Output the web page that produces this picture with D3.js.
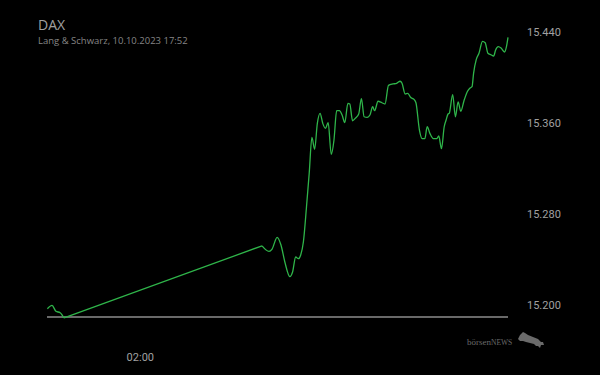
<!DOCTYPE html>
<html>
<head>
<meta charset="utf-8">
<script src="https://cdn.jsdelivr.net/npm/d3@7"></script>
<style>
  html, body { margin: 0; padding: 0; background: #000; }
  #chart { width: 600px; height: 375px; }
</style>
</head>
<body>
<div id="chart"></div>
<script>
// Kursdaten
const times = [
    "09.10.2023 22:01", "09.10.2023 22:13", "09.10.2023 22:23", "09.10.2023 22:34", "09.10.2023 22:44",
    "10.10.2023 07:16", "10.10.2023 07:34", "10.10.2023 07:42", "10.10.2023 07:55", "10.10.2023 08:05",
    "10.10.2023 08:15", "10.10.2023 08:28", "10.10.2023 08:35", "10.10.2023 08:43", "10.10.2023 08:50",
    "10.10.2023 08:56", "10.10.2023 09:03", "10.10.2023 09:11", "10.10.2023 09:18", "10.10.2023 09:25",
    "10.10.2023 09:32", "10.10.2023 09:39", "10.10.2023 09:46", "10.10.2023 09:53", "10.10.2023 10:00",
    "10.10.2023 10:07", "10.10.2023 10:15", "10.10.2023 10:22", "10.10.2023 10:29", "10.10.2023 10:36",
    "10.10.2023 10:43", "10.10.2023 10:50", "10.10.2023 10:58", "10.10.2023 11:03", "10.10.2023 11:10",
    "10.10.2023 11:17", "10.10.2023 11:26", "10.10.2023 11:33", "10.10.2023 11:40", "10.10.2023 11:48",
    "10.10.2023 11:55", "10.10.2023 12:02", "10.10.2023 12:07", "10.10.2023 12:16", "10.10.2023 12:26",
    "10.10.2023 12:34", "10.10.2023 12:43", "10.10.2023 12:55", "10.10.2023 13:04", "10.10.2023 13:13",
    "10.10.2023 13:18", "10.10.2023 13:26", "10.10.2023 13:33", "10.10.2023 13:40", "10.10.2023 13:49",
    "10.10.2023 13:54", "10.10.2023 14:03", "10.10.2023 14:10", "10.10.2023 14:17", "10.10.2023 14:23",
    "10.10.2023 14:30", "10.10.2023 14:39", "10.10.2023 14:48", "10.10.2023 14:53", "10.10.2023 15:00",
    "10.10.2023 15:07", "10.10.2023 15:12", "10.10.2023 15:17", "10.10.2023 15:20", "10.10.2023 15:29",
    "10.10.2023 15:36", "10.10.2023 15:43", "10.10.2023 15:50", "10.10.2023 15:58", "10.10.2023 16:07",
    "10.10.2023 16:14", "10.10.2023 16:19", "10.10.2023 16:23", "10.10.2023 16:30", "10.10.2023 16:37",
    "10.10.2023 16:46", "10.10.2023 16:53", "10.10.2023 17:00", "10.10.2023 17:08", "10.10.2023 17:15",
    "10.10.2023 17:20", "10.10.2023 17:27", "10.10.2023 17:34", "10.10.2023 17:43", "10.10.2023 17:48",
    "10.10.2023 17:52"
];
const prices = [
    15196.7, 15199.7, 15194.5, 15193.2, 15188.6,
    15252.0, 15247.2, 15249.2, 15259.5, 15252.7,
    15237.8, 15224.9, 15229.0, 15242.2, 15240.7,
    15244.0, 15255.6, 15286.4, 15315.8, 15347.4,
    15336.9, 15359.7, 15368.5, 15359.7, 15355.3,
    15360.3, 15332.5, 15345.0, 15370.8, 15370.8,
    15367.0, 15360.3, 15377.3, 15376.7, 15362.0,
    15364.1, 15367.9, 15381.4, 15365.5, 15365.0,
    15367.0, 15374.3, 15370.8, 15379.1, 15377.8,
    15376.7, 15393.1, 15394.3, 15394.9, 15396.7,
    15394.9, 15385.5, 15386.1, 15382.6, 15380.8,
    15377.8, 15353.8, 15346.2, 15346.2, 15356.7,
    15350.9, 15346.2, 15346.2, 15348.6, 15337.4,
    15356.7, 15362.6, 15367.9, 15368.5, 15384.9,
    15365.5, 15378.5, 15370.3, 15379.3, 15387.7,
    15390.8, 15391.9, 15403.7, 15416.0, 15421.3,
    15431.8, 15430.6, 15421.3, 15420.0, 15418.9,
    15424.2, 15427.1, 15425.9, 15422.4, 15427.1,
    15435.3
];
const prevClose = 15189.5;
const yTicks = [15200, 15280, 15360, 15440];
const xTicks = ["10.10.2023 02:00"];
const xDomain = ["09.10.2023 22:00", "10.10.2023 17:52"];
const title = "DAX";
const subtitle = "Lang & Schwarz, 10.10.2023 17:52";

const parse = d3.timeParse("%d.%m.%Y %H:%M");
const data = times.map((t, i) => ({ t: parse(t), v: prices[i] }));

// Handelspause über Nacht: Abend- und Tagessitzung getrennt glätten
const dayStart = parse("10.10.2023 06:00");
const evening = data.filter(d => d.t < dayStart);
const day = data.filter(d => d.t >= dayStart);
const gap = [evening[evening.length - 1], day[0]];

const deFormat = d3.formatLocale({ decimal: ",", thousands: ".", grouping: [3], currency: ["", " €"] }).format(",.0f");

const svg = d3.select("#chart").append("svg")
    .attr("width", 600)
    .attr("height", 375)
    .style("background", "#000");

const x = d3.scaleTime()
    .domain(xDomain.map(parse))
    .range([47, 508]);

const y = d3.scaleLinear()
    .domain([15200, 15440])
    .range([305, 32]);

// Titel
svg.append("text")
    .attr("x", 38).attr("y", 30)
    .text(title)
    .style("font-family", "'Open Sans', sans-serif")
    .style("font-size", "14px")
    .attr("fill", "#a0a0a0");

svg.append("text")
    .attr("x", 38).attr("y", 44)
    .text(subtitle)
    .style("font-family", "'Open Sans', sans-serif")
    .style("font-size", "9.5px")
    .attr("fill", "#858585");

// Achse rechts
const yAxis = svg.append("g")
    .attr("transform", "translate(520,0)")
    .call(d3.axisRight(y).tickValues(yTicks).tickFormat(deFormat).tickSize(0).tickPadding(7));
yAxis.select(".domain").remove();
yAxis.selectAll("text")
    .style("font-family", "Roboto, sans-serif")
    .style("font-size", "11px")
    .attr("fill", "#a0a0a0");

// Zeitachse
const xAxis = svg.append("g")
    .attr("transform", "translate(0,350)")
    .call(d3.axisBottom(x).tickValues(xTicks.map(parse)).tickFormat(d3.timeFormat("%H:%M")).tickSize(0).tickPadding(3));
xAxis.select(".domain").remove();
xAxis.selectAll("text")
    .style("font-family", "Roboto, sans-serif")
    .style("font-size", "11px")
    .attr("fill", "#a0a0a0");

// Vortagesschluss
svg.append("line")
    .attr("x1", x.range()[0]).attr("x2", x.range()[1])
    .attr("y1", y(prevClose)).attr("y2", y(prevClose))
    .attr("stroke", "#8c8c8c")
    .attr("stroke-width", 1.5);

// Kurslinie
const smooth = d3.line()
    .x(d => x(d.t))
    .y(d => y(d.v))
    .curve(d3.curveMonotoneX);
const straight = d3.line()
    .x(d => x(d.t))
    .y(d => y(d.v));

[smooth(evening), straight(gap), smooth(day)].forEach(p => {
    svg.append("path")
        .attr("d", p)
        .attr("fill", "none")
        .attr("stroke", "#2fb54a")
        .attr("stroke-width", 1.3)
        .attr("stroke-linejoin", "round");
});

// Logo
const logo = svg.append("g").attr("transform", "translate(467,345)");
logo.append("text")
    .attr("x", 0).attr("y", 0)
    .style("font-family", "'Liberation Serif', serif")
    .style("font-size", "9px")
    .attr("fill", "#6a6a6a")
    .text("börsen")
    .append("tspan")
    .style("font-size", "7.5px")
    .text("NEWS");
logo.append("path")
    .attr("d", "M51,-6 L53,-10 L56,-13 L58,-12 L61,-10 L66,-8 L71,-6 L74,-3 L76,-3 L77,0 L74,0 L73,3 L71,1 L69,1 L67,-1 L63,-2 L59,-3 L56,-4 L53,-4 Z")
    .attr("fill", "#6a6a6a");
</script>
</body>
</html>
